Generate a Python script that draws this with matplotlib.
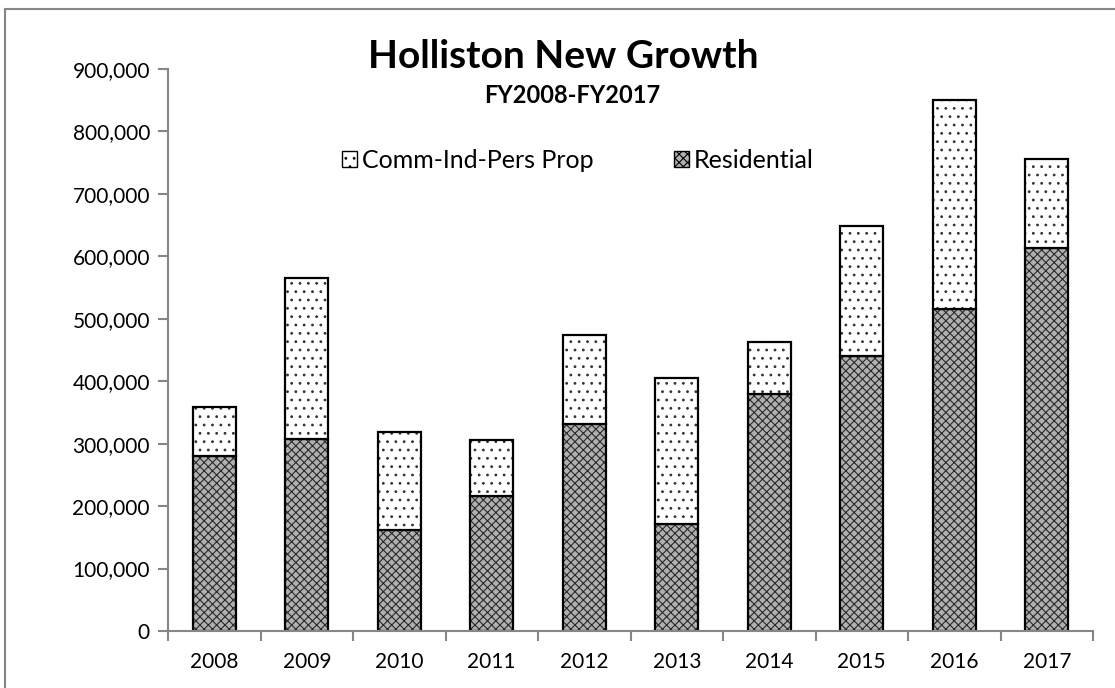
import matplotlib.pyplot as plt
import matplotlib.patches as mpatches
import numpy as np

plt.rcParams['font.family'] = ['Lato', 'DejaVu Sans']
plt.rcParams['hatch.linewidth'] = 0.8

years = ['2008', '2009', '2010', '2011', '2012', '2013', '2014', '2015', '2016', '2017']
residential = [280000, 307000, 162000, 216000, 331000, 172000, 379000, 441000, 516000, 614000]
comm_ind = [78000, 258000, 157000, 90000, 143000, 233000, 84000, 208000, 334000, 142000]

x = np.arange(len(years))
width = 0.46

fig = plt.figure(figsize=(11.15, 6.88), dpi=100)
ax = fig.add_axes([168/1115, 1 - 631/688, (1093-168)/1115, (631-69)/688])

# residential: grey crosshatch, then black outline on top
ax.bar(x, residential, width=width, color='#b0b0b0', edgecolor='#2a2a2a', hatch='xxxx', linewidth=0)
ax.bar(x, residential, width=width, fill=False, edgecolor='black', linewidth=1.6)
# commercial / industrial / personal property: dotted white
ax.bar(x, comm_ind, width=width, bottom=residential, color='white', edgecolor='#333333', hatch='..', linewidth=0)
ax.bar(x, comm_ind, width=width, bottom=residential, fill=False, edgecolor='black', linewidth=1.6)

ax.set_xlim(-0.5, len(years) - 0.5)
ax.set_ylim(0, 900000)
ax.set_yticks(np.arange(0, 900001, 100000))
ax.yaxis.set_major_formatter(plt.FuncFormatter(lambda v, p: f'{int(v):,}'))
ax.set_xticks(x)
ax.set_xticklabels(years)
ax.set_xticks(np.arange(-0.5, len(years), 1), minor=True)

for s in ['top', 'right']:
    ax.spines[s].set_visible(False)
for s in ['left', 'bottom']:
    ax.spines[s].set_color('#868686')
    ax.spines[s].set_linewidth(1.5)
ax.tick_params(axis='y', length=7, width=1.5, color='#868686', labelsize=15, pad=6)
ax.tick_params(axis='x', which='major', length=0, labelsize=15, pad=15)
ax.tick_params(axis='x', which='minor', length=7, width=1.5, color='#868686')

fig.text(563/1115, 1 - 68/688, 'Holliston New Growth', ha='center', va='baseline',
         fontsize=28, fontweight='bold')
fig.text(572/1115, 1 - 103/688, 'FY2008-FY2017', ha='center', va='baseline',
         fontsize=17, fontweight='bold')

h1 = mpatches.Patch(facecolor='white', edgecolor='black', hatch='..', linewidth=1)
h2 = mpatches.Patch(facecolor='#b0b0b0', edgecolor='black', hatch='xxxx', linewidth=1)
fig.legend([h1, h2], ['Comm-Ind-Pers Prop', 'Residential'], ncol=2, frameon=False,
           loc='center', bbox_to_anchor=(578/1115, 1 - 160/688), fontsize=18,
           handlelength=0.6, handleheight=0.6, handletextpad=0.2, columnspacing=3.2)

# chart border
fig.patches.append(mpatches.Rectangle((5/1115, -0.05), 1.1, 1 - 9/688 + 0.05,
                                      transform=fig.transFigure, fill=False,
                                      edgecolor='#868686', linewidth=1.5))

fig.savefig('out.png', dpi=100)
